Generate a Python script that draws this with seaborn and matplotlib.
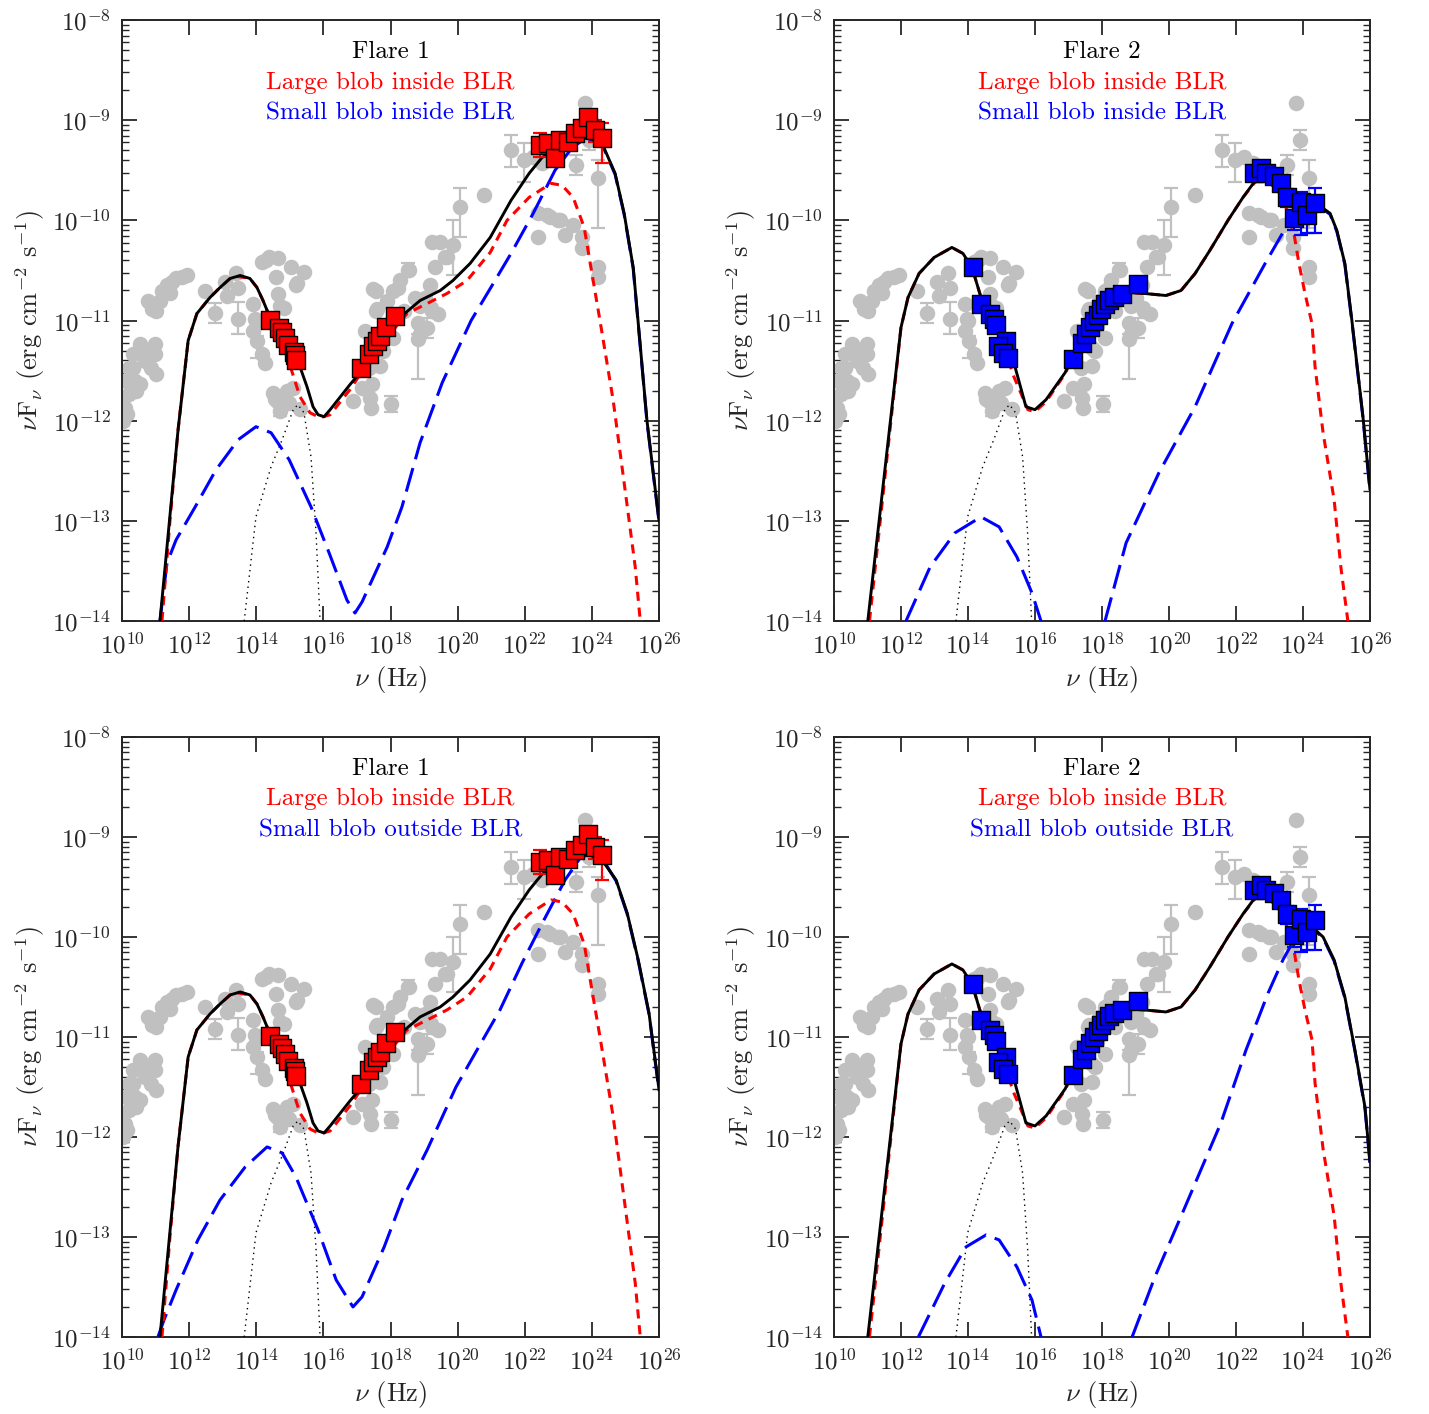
import numpy as np
import pandas as pd
import matplotlib
matplotlib.use("Agg")
import matplotlib.pyplot as plt
import seaborn as sns
from matplotlib.ticker import LogLocator, FixedLocator, NullLocator, NullFormatter

sns.set_style("ticks")
plt.rcParams["font.family"] = "serif"
plt.rcParams["font.serif"] = ["cmr10"]
plt.rcParams["mathtext.fontset"] = "cm"
plt.rcParams["axes.formatter.use_mathtext"] = True
plt.rcParams["axes.unicode_minus"] = False

# ---------------- archival data (grey), log10 values ----------------
grey_lognu = [10.86, 11.01, 10.77, 11.13, 11.34, 11.61, 11.79, 11.94, 10.89, 11.43, 11.20, 11.50,
              10.54, 10.98, 10.33, 10.66, 10.98, 10.21, 10.86, 10.39, 11.01, 10.21, 10.42, 10.09,
              10.15, 10.69, 10.33, 10.54, 10.03, 10.83, 10.03, 10.12,
              12.47, 12.77, 13.13, 13.07, 13.46, 13.40, 13.46, 13.90, 13.96, 13.90, 14.02, 14.17,
              14.26, 13.99,
              14.17, 14.38, 14.65, 15.04, 15.42, 15.18, 14.59, 14.65, 14.83, 14.71, 15.21, 14.30,
              14.50, 14.77, 14.92, 15.10, 14.71, 15.30, 14.62, 14.98, 14.55,
              17.15, 17.42, 18.02, 17.36, 17.69, 17.78, 17.69, 17.45, 17.39, 16.88, 17.48, 17.60,
              17.90, 18.08, 18.28, 18.52, 18.73, 18.88, 19.03, 19.18, 19.33, 19.24, 19.48, 19.68,
              19.86, 19.24, 18.82, 18.88, 19.09, 18.82, 18.08, 17.57, 17.57, 18.22, 18.55, 19.21,
              19.42, 19.62, 20.07, 20.79, 17.25, 17.85, 18.40,
              21.59, 21.98, 22.25, 22.51, 22.40, 22.66, 23.05, 23.44, 22.40, 23.20, 23.71, 23.71,
              23.53, 23.80, 23.92, 24.18, 24.18, 24.18, 22.75, 22.99]
grey_logf = [-10.83, -10.90, -10.80, -10.80, -10.65, -10.58, -10.57, -10.55, -10.88, -10.72, -10.70, -10.62,
             -11.23, -11.23, -11.33, -11.33, -11.33, -11.47, -11.47, -11.60, -11.53, -11.73, -11.70, -11.87,
             -11.93, -11.40, -11.47, -11.63, -11.77, -11.30, -12.00, -11.60,
             -10.70, -10.92, -10.75, -10.62, -10.67, -10.53, -10.98, -10.83, -10.98, -11.10, -11.20, -11.33,
             -11.42, -11.00,
             -10.42, -10.37, -10.38, -10.47, -10.52, -10.65, -10.57, -10.73, -10.87, -10.85, -10.63, -10.40,
             -11.72, -11.77, -11.70, -11.67, -11.90, -11.88, -11.80, -11.82, -11.78,
             -11.67, -11.87, -11.83, -11.47, -11.27, -11.30, -11.45, -11.63, -11.77, -11.80, -10.68, -10.88,
             -10.80, -10.70, -10.60, -10.50, -10.77, -10.85, -10.77, -10.65, -10.47, -10.22, -10.22, -10.37,
             -10.25, -10.90, -11.02, -11.13, -11.07, -11.18, -11.17, -10.70, -10.90, -10.67, -10.50, -10.87,
             -10.93, -10.37, -9.87, -9.75, -11.10, -11.05, -10.90,
             -9.30, -9.40, -9.37, -9.43, -9.93, -9.95, -10.00, -10.05, -10.17, -10.15, -10.17, -10.28,
             -9.45, -8.83, -9.20, -9.58, -10.47, -10.57, -9.97, -10.00]
grey_err_lognu = [12.77, 13.46, 14.02, 14.71, 18.02, 18.52, 19.86, 19.09, 18.82, 20.07, 21.59, 21.98,
                  23.53, 23.92, 24.18]
grey_err_logf = [-10.92, -10.98, -11.20, -11.90, -11.83, -10.50, -10.25, -11.07, -11.18, -9.87, -9.30, -9.40,
                 -9.45, -9.20, -9.58]
grey_err_dn = [0.10, 0.15, 0.17, 0.05, 0.08, 0.05, 0.30, 0.10, 0.40, 0.30, 0.17, 0.22, 0.10, 0.10, 0.50]
grey_err_up = [0.10, 0.17, 0.05, 0.05, 0.08, 0.07, 0.25, 0.10, 0.05, 0.19, 0.15, 0.17, 0.10, 0.10, 0.18]

# ---------------- flare data (squares) ----------------
f1_lognu = [14.41, 14.68, 14.77, 14.86, 14.95, 15.13, 15.16, 15.18,
            17.12, 17.36, 17.48, 17.60, 17.69, 17.87, 18.13,
            22.46, 22.69, 22.90, 23.05, 23.29, 23.50, 23.71, 23.89, 24.09, 24.30]
f1_logf = [-10.99, -11.07, -11.11, -11.17, -11.24, -11.31, -11.34, -11.39,
           -11.47, -11.33, -11.25, -11.20, -11.15, -11.06, -10.95,
           -9.25, -9.23, -9.38, -9.20, -9.22, -9.13, -9.08, -8.97, -9.10, -9.18]
f1_err_lognu = [22.46, 22.69, 22.90, 23.05, 23.29, 23.50, 23.71, 23.89, 24.09, 24.30]
f1_err_logf = [-9.25, -9.23, -9.38, -9.20, -9.22, -9.13, -9.08, -8.97, -9.10, -9.18]
f1_err_dn = [0.12, 0.05, 0.08, 0.06, 0.05, 0.05, 0.05, 0.06, 0.12, 0.25]
f1_err_up = [0.12, 0.05, 0.06, 0.06, 0.05, 0.05, 0.05, 0.06, 0.10, 0.15]

f2_lognu = [14.15, 14.39, 14.66, 14.78, 14.84, 15.13, 14.90, 15.04, 15.19,
            17.13, 17.40, 17.52, 17.64, 17.76, 17.88, 17.97, 18.09, 18.21, 18.36, 18.60, 19.07,
            22.54, 22.75, 22.90, 23.13, 23.34, 23.52, 23.73, 23.94, 24.12, 24.36]
f2_logf = [-10.47, -10.83, -10.93, -10.98, -11.04, -11.20, -11.25, -11.32, -11.37,
           -11.38, -11.22, -11.13, -11.06, -11.00, -10.94, -10.88, -10.83, -10.79, -10.76, -10.73, -10.64,
           -9.53, -9.48, -9.53, -9.56, -9.63, -9.77, -9.98, -9.82, -9.95, -9.83]
f2_err_lognu = [22.54, 22.75, 22.90, 23.13, 23.34, 23.52, 23.73, 23.94, 24.12, 24.36]
f2_err_logf = [-9.53, -9.48, -9.53, -9.56, -9.63, -9.77, -9.98, -9.82, -9.95, -9.83]
f2_err_dn = [0.06, 0.05, 0.05, 0.05, 0.05, 0.10, 0.12, 0.33, 0.18, 0.30]
f2_err_up = [0.06, 0.05, 0.05, 0.05, 0.05, 0.08, 0.08, 0.10, 0.10, 0.15]

# ---------------- model curves ----------------
disk_lognu = [13.64, 13.99, 14.44, 14.77, 15.10, 15.24, 15.42, 15.63, 15.78, 15.90]
disk_logf = [-14.0, -12.96, -12.46, -12.19, -11.89, -11.84, -11.92, -12.36, -13.12, -14.0]

lb1_lognu = [11.19, 11.43, 11.67, 11.97, 12.23, 12.62, 12.92, 13.22, 13.45, 13.81, 14.02, 14.20, 14.41,
             14.71, 14.92, 15.30, 15.60, 15.90, 16.20, 16.79, 17.09, 17.69, 18.49, 19.09, 19.68, 20.28,
             20.97, 21.47, 22.13, 22.78, 23.11, 23.44, 23.77, 23.97, 24.24, 24.63, 24.96, 25.29, 25.44]
lb1_logf = [-14.0, -12.99, -12.09, -11.20, -10.93, -10.77, -10.67, -10.58, -10.56, -10.58, -10.67, -10.80,
            -10.97, -11.13, -11.36, -11.76, -11.92, -11.97, -11.94, -11.69, -11.54, -11.25, -10.93, -10.83,
            -10.73, -10.60, -10.32, -10.00, -9.77, -9.63, -9.65, -9.77, -10.07, -10.47, -11.00, -11.79,
            -12.62, -13.46, -14.0]

tot1_lognu = [11.13, 11.67, 11.97, 12.23, 12.62, 12.92, 13.22, 13.52, 13.81, 14.02, 14.20, 14.41, 14.71,
              15.01, 15.30, 15.51, 15.69, 15.84, 16.02, 16.20, 16.79, 17.09, 17.69, 18.28, 18.88, 19.48,
              19.86, 20.37, 20.97, 21.59, 22.13, 22.52, 23.20, 23.86, 24.30, 24.69, 24.96, 25.23, 25.40,
              25.64, 26.0]
tot1_logf = [-14.0, -12.09, -11.20, -10.93, -10.77, -10.67, -10.58, -10.55, -10.58, -10.67, -10.80, -10.97,
             -11.13, -11.29, -11.46, -11.66, -11.86, -11.94, -11.96, -11.89, -11.64, -11.52, -11.23, -10.97,
             -10.80, -10.70, -10.60, -10.43, -10.17, -9.80, -9.53, -9.37, -9.27, -9.17, -9.23, -9.53, -9.93,
             -10.47, -11.10, -12.0, -13.0]

tot3_lognu = tot1_lognu[:35] + [24.72, 25.05, 25.38, 25.70, 26.0]
tot3_logf = tot1_logf[:35] + [-9.43, -9.76, -10.23, -10.76, -11.53]

sb1_lognu = [11.13, 11.34, 11.61, 12.18, 12.80, 13.46, 13.99, 14.44, 14.98, 15.63, 16.17, 16.70, 16.94,
             17.15, 17.90, 18.34, 18.88, 19.54, 20.40, 21.06, 21.59, 22.25, 22.90, 23.44, 23.86, 24.30,
             24.69, 24.96, 25.23, 25.40, 25.64, 26.0]
sb1_logf = [-14.0, -13.42, -13.19, -12.86, -12.49, -12.19, -12.06, -12.12, -12.39, -12.86, -13.32, -13.79,
            -13.92, -13.81, -13.26, -12.86, -12.22, -11.62, -11.00, -10.63, -10.33, -9.93, -9.50, -9.26,
            -9.18, -9.24, -9.54, -9.94, -10.48, -11.11, -12.01, -13.01]

sb3_lognu = [11.07, 11.25, 11.61, 12.26, 12.92, 13.67, 14.32, 14.77, 15.18, 15.84, 16.38, 16.88, 17.15,
             17.81, 18.34, 19.09, 19.95, 20.61, 21.26, 21.92, 22.57, 23.20, 23.65, 23.86, 24.30, 24.72,
             25.05, 25.38, 25.70, 26.0]
sb3_logf = [-14.0, -13.83, -13.53, -13.03, -12.63, -12.30, -12.10, -12.16, -12.40, -12.93, -13.43, -13.70,
            -13.60, -13.10, -12.63, -12.13, -11.50, -11.11, -10.73, -10.26, -9.83, -9.43, -9.21, -9.18,
            -9.21, -9.44, -9.77, -10.24, -10.77, -11.54]

lb2_lognu = [11.06, 12.00, 12.21, 12.54, 12.99, 13.52, 13.85, 14.12, 14.39, 14.72, 14.93, 15.37, 15.79,
             16.00, 16.33, 16.90, 17.31, 17.76, 18.51, 18.84, 19.28, 19.91, 20.36, 20.78, 21.22, 21.76,
             22.21, 22.54, 22.75, 22.96, 23.28, 23.49, 23.73, 23.88, 24.06, 24.27, 24.36, 24.60, 24.93,
             25.13, 25.34]
lb2_logf = [-14.0, -11.07, -10.77, -10.53, -10.37, -10.27, -10.33, -10.47, -10.77, -11.00, -11.13, -11.56,
            -11.89, -11.91, -11.81, -11.53, -11.23, -11.00, -10.73, -10.72, -10.73, -10.75, -10.70, -10.53,
            -10.30, -10.00, -9.77, -9.63, -9.58, -9.61, -9.72, -9.87, -10.13, -10.43, -10.73, -11.03,
            -11.46, -12.12, -12.79, -13.46, -14.0]

tot2_lognu = [11.01, 12.00, 12.21, 12.54, 12.99, 13.52, 13.85, 14.12, 14.39, 14.72, 14.93, 15.37, 15.73,
              16.00, 16.33, 16.90, 17.31, 17.76, 18.51, 18.84, 19.28, 19.91, 20.36, 20.78, 21.22, 21.76,
              22.21, 22.54, 22.75, 22.96, 23.28, 23.61, 24.06, 24.48, 24.81, 25.01, 25.25, 25.46, 25.79, 26.0]
tot2_logf = [-14.0, -11.07, -10.77, -10.53, -10.37, -10.27, -10.33, -10.47, -10.77, -11.00, -11.13, -11.42,
             -11.86, -11.89, -11.79, -11.52, -11.23, -11.00, -10.73, -10.72, -10.73, -10.75, -10.70, -10.53,
             -10.30, -10.00, -9.77, -9.62, -9.56, -9.59, -9.69, -9.82, -9.86, -9.85, -9.93, -10.10, -10.43,
             -11.00, -11.96, -12.69]

tot4_lognu = tot2_lognu[:31] + [23.82, 24.27, 24.60, 24.93, 25.25, 25.55, 25.85, 26.0]
tot4_logf = tot2_logf[:31] + [-9.86, -9.90, -10.00, -10.23, -10.60, -11.13, -11.70, -12.25]

sb2_low_lognu = [12.15, 12.87, 13.61, 14.39, 14.93, 15.46, 15.91, 16.18]
sb2_low_logf = [-14.0, -13.46, -13.12, -12.96, -13.06, -13.36, -13.72, -14.0]
sb2_high_lognu = [18.09, 18.72, 19.70, 20.78, 21.88, 22.87, 23.61, 24.06, 24.48, 24.81, 25.01, 25.25,
                  25.46, 25.79, 26.0]
sb2_high_logf = [-14.0, -13.22, -12.52, -11.86, -11.03, -10.43, -10.00, -9.87, -9.86, -9.94, -10.11,
                 -10.44, -11.01, -11.97, -12.70]

sb4_low_lognu = [12.52, 13.31, 13.94, 14.54, 14.93, 15.46, 15.91, 16.18]
sb4_low_logf = [-14.0, -13.46, -13.10, -12.98, -13.03, -13.30, -13.63, -14.0]
sb4_high_lognu = [18.90, 19.58, 20.48, 21.55, 22.30, 22.96, 23.40, 23.73, 24.27, 24.60, 24.93, 25.25,
                  25.55, 25.85, 26.0]
sb4_high_logf = [-14.0, -13.40, -12.70, -11.86, -11.13, -10.56, -10.23, -10.03, -9.91, -10.01, -10.24,
                 -10.61, -11.14, -11.71, -12.26]

x_tick_exps = [10, 12, 14, 16, 18, 20, 22, 24, 26]
y_tick_exps = [-14, -13, -12, -11, -10, -9, -8]

titles = ["Flare 1", "Flare 2", "Flare 1", "Flare 2"]
large_labels = ["Large blob inside BLR"] * 4
small_labels = ["Small blob inside BLR", "Small blob inside BLR",
                "Small blob outside BLR", "Small blob outside BLR"]

RED = "#ff0000"
BLUE = "#0000ff"
GREY = "#c0c0c0"


def pw(a):
    return np.power(10.0, np.asarray(a, dtype=float))


def line(ax, lx, ly, **kw):
    df = pd.DataFrame({"nu": pw(lx), "f": pw(ly)})
    sns.lineplot(data=df, x="nu", y="f", ax=ax, estimator=None, sort=False, **kw)


fig = plt.figure(figsize=(14.29, 14.14), dpi=100)
positions = [[0.0854, 0.5608, 0.3758, 0.4250],
             [0.5836, 0.5608, 0.3751, 0.4250],
             [0.0854, 0.0545, 0.3758, 0.4243],
             [0.5836, 0.0545, 0.3751, 0.4243]]

panels = [
    dict(tot=(tot1_lognu, tot1_logf), red=(lb1_lognu, lb1_logf), blue=[(sb1_lognu, sb1_logf)],
         sq=(f1_lognu, f1_logf), err=(f1_err_lognu, f1_err_logf, f1_err_dn, f1_err_up), col=RED),
    dict(tot=(tot2_lognu, tot2_logf), red=(lb2_lognu, lb2_logf),
         blue=[(sb2_low_lognu, sb2_low_logf), (sb2_high_lognu, sb2_high_logf)],
         sq=(f2_lognu, f2_logf), err=(f2_err_lognu, f2_err_logf, f2_err_dn, f2_err_up), col=BLUE),
    dict(tot=(tot3_lognu, tot3_logf), red=(lb1_lognu, lb1_logf), blue=[(sb3_lognu, sb3_logf)],
         sq=(f1_lognu, f1_logf), err=(f1_err_lognu, f1_err_logf, f1_err_dn, f1_err_up), col=RED),
    dict(tot=(tot4_lognu, tot4_logf), red=(lb2_lognu, lb2_logf),
         blue=[(sb4_low_lognu, sb4_low_logf), (sb4_high_lognu, sb4_high_logf)],
         sq=(f2_lognu, f2_logf), err=(f2_err_lognu, f2_err_logf, f2_err_dn, f2_err_up), col=BLUE),
]

for i, (pos, p) in enumerate(zip(positions, panels)):
    ax = fig.add_axes(pos)
    ax.set_xscale("log")
    ax.set_yscale("log")

    # grey archival data
    gx = pw(grey_err_lognu)
    gy = pw(grey_err_logf)
    ax.errorbar(gx, gy, yerr=[gy - pw(np.array(grey_err_logf) - np.array(grey_err_dn)),
                              pw(np.array(grey_err_logf) + np.array(grey_err_up)) - gy],
                fmt="none", ecolor=GREY, elinewidth=1.6, capsize=5, capthick=1.6, zorder=1)
    sns.scatterplot(x=pw(grey_lognu), y=pw(grey_logf), ax=ax, color=GREY, s=125,
                    linewidth=0, marker="o", zorder=2)

    # model curves
    line(ax, disk_lognu, disk_logf, color="black", linewidth=1.0, linestyle=(0, (1, 3)), zorder=3)
    for bl in p["blue"]:
        line(ax, bl[0], bl[1], color=BLUE, linewidth=2.2, linestyle=(0, (8, 3)), zorder=4)
    line(ax, p["red"][0], p["red"][1], color=RED, linewidth=2.2, linestyle=(0, (3, 2.2)), zorder=5)
    line(ax, p["tot"][0], p["tot"][1], color="black", linewidth=2.1, zorder=6)

    # flare data
    ex, ey, edn, eup = p["err"]
    ey_l = np.array(ey)
    ax.errorbar(pw(ex), pw(ey), yerr=[pw(ey_l) - pw(ey_l - np.array(edn)), pw(ey_l + np.array(eup)) - pw(ey_l)],
                fmt="none", ecolor=p["col"], elinewidth=1.6, capsize=5, capthick=1.6, zorder=7)
    sns.scatterplot(x=pw(p["sq"][0]), y=pw(p["sq"][1]), ax=ax, color=p["col"], marker="s", s=150,
                    edgecolor="black", linewidth=1.0, zorder=8)

    ax.set_xlim(1e10, 1e26)
    ax.set_ylim(1e-14, 1e-8)
    ax.xaxis.set_major_locator(FixedLocator(pw(x_tick_exps)))
    ax.xaxis.set_minor_locator(NullLocator())
    ax.yaxis.set_major_locator(FixedLocator(pw(y_tick_exps)))
    minor_y = [m * 10.0 ** e for e in y_tick_exps[:-1] for m in range(2, 10)]
    ax.yaxis.set_minor_locator(FixedLocator(minor_y))
    ax.yaxis.set_minor_formatter(NullFormatter())
    ax.tick_params(which="both", direction="in", top=True, right=True)
    ax.tick_params(which="major", length=11, width=1.3, labelsize=18, pad=8)
    ax.tick_params(which="minor", length=5, width=1.0)
    for s in ax.spines.values():
        s.set_linewidth(1.4)
        s.set_visible(True)

    ax.set_xlabel(r"$\nu$ (Hz)", fontsize=19, labelpad=4)
    ax.set_ylabel(r"$\nu$F$_\nu$ (erg cm$^{-2}$ s$^{-1}$)", fontsize=19, labelpad=4)

    ax.text(0.5, 0.947, titles[i], transform=ax.transAxes, ha="center", va="center",
            fontsize=18, color="black")
    ax.text(0.5, 0.896, large_labels[i], transform=ax.transAxes, ha="center", va="center",
            fontsize=18, color=RED)
    ax.text(0.5, 0.845, small_labels[i], transform=ax.transAxes, ha="center", va="center",
            fontsize=18, color=BLUE)

fig.savefig("out.png", dpi=100)
